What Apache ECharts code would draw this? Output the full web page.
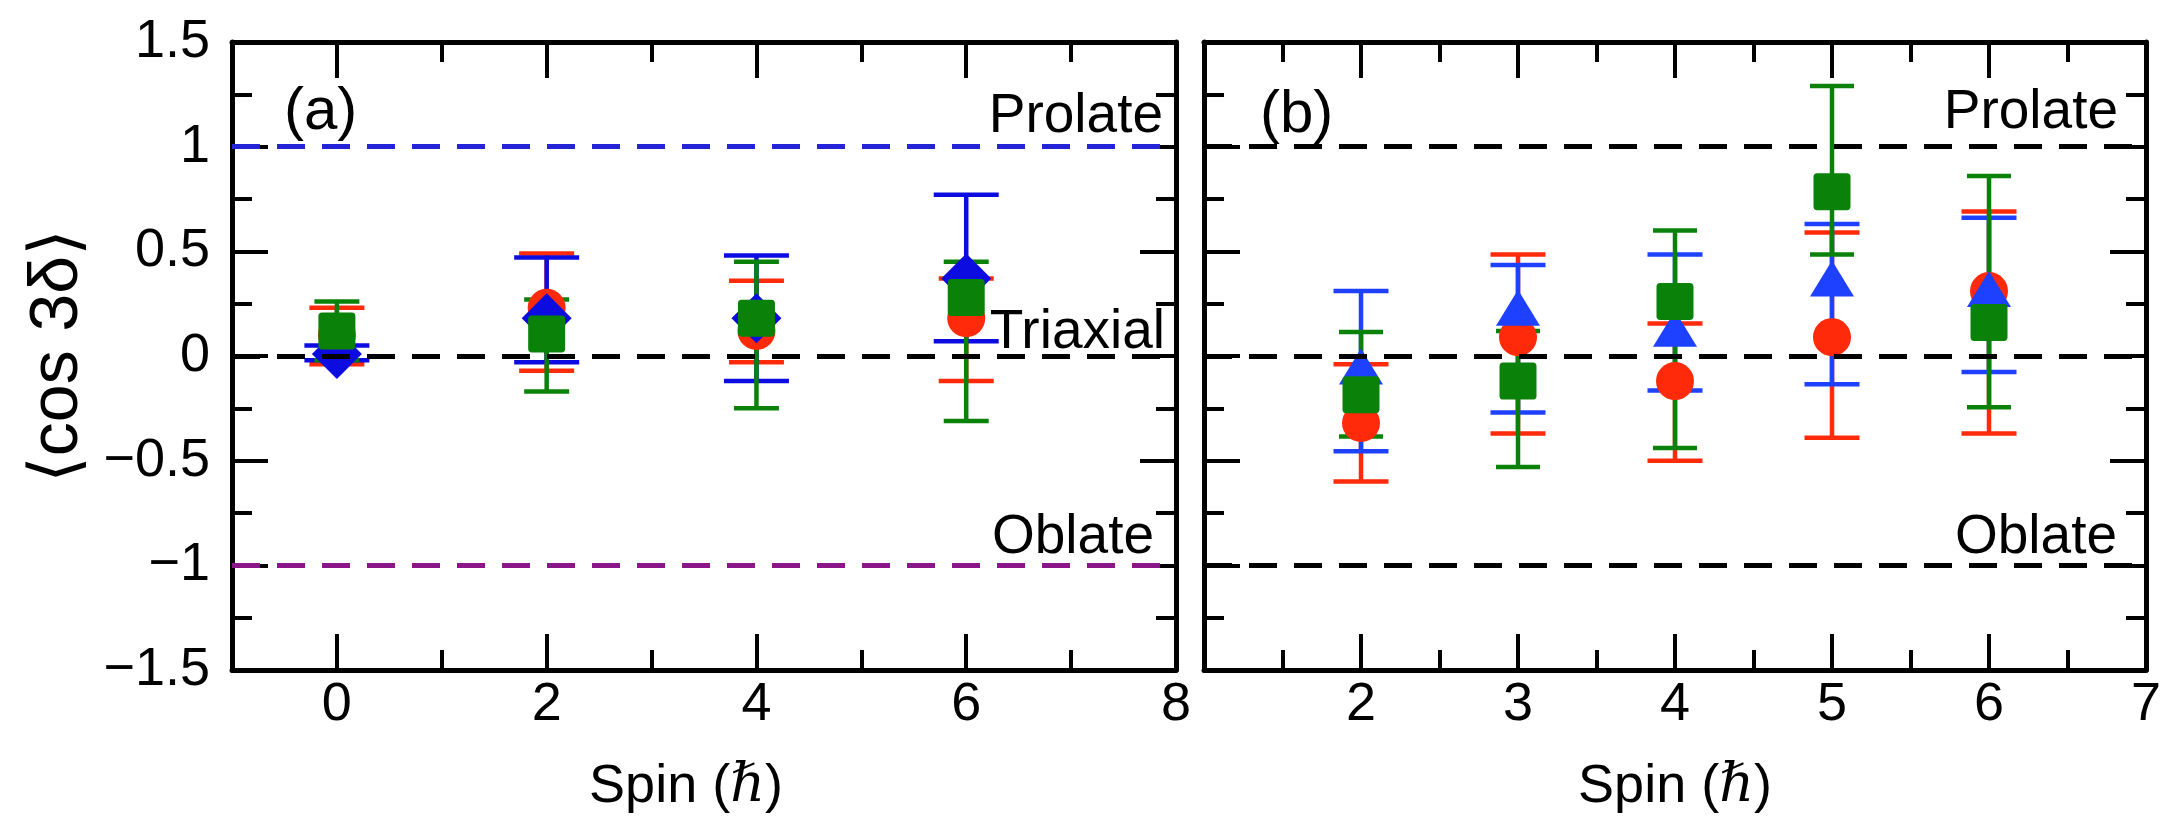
<!DOCTYPE html>
<html>
<head>
<meta charset="utf-8">
<script src="https://cdn.jsdelivr.net/npm/echarts@6/dist/echarts.min.js"></script>
<style>
  html, body { margin: 0; padding: 0; background: #fff; }
  #chart { width: 2177px; height: 826px; }
</style>
</head>
<body>
<div id="chart"></div>
<script>
// ---- Panel (a): spin values and <cos 3δ> with error limits ----
const spinsA = [0, 2, 4, 6];
const redA      = [0.10, 0.23, 0.12, 0.18];
const redALow   = [-0.04, -0.07, -0.03, -0.12];
const redAHigh  = [0.23, 0.49, 0.36, 0.37];
const blueA     = [0.01, 0.18, 0.18, 0.37];
const blueALow  = [-0.02, -0.03, -0.12, 0.07];
const blueAHigh = [0.05, 0.47, 0.48, 0.77];
const greenA     = [0.12, 0.105, 0.18, 0.28];
const greenALow  = [-0.02, -0.17, -0.25, -0.31];
const greenAHigh = [0.26, 0.27, 0.45, 0.45];

// ---- Panel (b) ----
const spinsB = [2, 3, 4, 5, 6];
const redB      = [-0.32, 0.09, -0.12, 0.09, 0.31];
const redBLow   = [-0.60, -0.37, -0.50, -0.39, -0.37];
const redBHigh  = [-0.04, 0.485, 0.155, 0.59, 0.69];
const blueB     = [-0.05, 0.23, 0.13, 0.37, 0.32];
const blueBLow  = [-0.455, -0.27, -0.165, -0.135, -0.077];
const blueBHigh = [0.31, 0.435, 0.485, 0.63, 0.66];
const greenB     = [-0.185, -0.12, 0.26, 0.785, 0.16];
const greenBLow  = [-0.385, -0.53, -0.44, 0.485, -0.245];
const greenBHigh = [0.115, 0.12, 0.60, 1.29, 0.86];

// Axis ticks
const majorTicksA = [0, 2, 4, 6, 8];
const minorTicksA = [1, 3, 5, 7];

// Shape reference levels
const prolateLevel = 1;
const triaxialLevel = 0;
const oblateLevel = -1;

const FONT = "'Liberation Sans', 'DejaVu Sans', sans-serif";
const RED = '#ff2a0a';
const BLUE_A = '#0c0ce0';
const BLUE_B = '#1e40ff';
const GREEN = '#0a820a';
const SQUARE = 'path://M2,0 H18 Q20,0 20,2 V18 Q20,20 18,20 H2 Q0,20 0,18 V2 Q0,0 2,0 Z';

function minusFmt(v) {
  return v < 0 ? '\u2212' + Math.abs(v) : String(v);
}

function errorBars(xIdx, yIdx, xs, lo, hi, color, cap) {
  return {
    type: 'custom',
    xAxisIndex: xIdx, yAxisIndex: yIdx,
    data: xs.map((x, i) => [x, lo[i], hi[i]]),
    encode: { x: 0, y: [1, 2] },
    silent: true,
    z: 3,
    renderItem: function (params, api) {
      const x = api.value(0);
      const pLo = api.coord([x, api.value(1)]);
      const pHi = api.coord([x, api.value(2)]);
      const h = cap / 2;
      const st = { stroke: color, lineWidth: 4.5 };
      return {
        type: 'group',
        children: [
          { type: 'line', shape: { x1: pLo[0], y1: pLo[1], x2: pHi[0], y2: pHi[1] }, style: st },
          { type: 'line', shape: { x1: pHi[0] - h, y1: pHi[1], x2: pHi[0] + h, y2: pHi[1] }, style: st },
          { type: 'line', shape: { x1: pLo[0] - h, y1: pLo[1], x2: pLo[0] + h, y2: pLo[1] }, style: st }
        ]
      };
    }
  };
}

function markers(xIdx, yIdx, xs, ys, color, symbol, size) {
  return {
    type: 'scatter',
    xAxisIndex: xIdx, yAxisIndex: yIdx,
    data: xs.map((x, i) => [x, ys[i]]),
    symbol: symbol, symbolSize: size,
    itemStyle: { color: color, opacity: 1 },
    silent: true,
    z: 3
  };
}

function refLines(xIdx, yIdx, levels) {
  return {
    type: 'scatter',
    xAxisIndex: xIdx, yAxisIndex: yIdx,
    data: [],
    z: 5,
    markLine: {
      silent: true,
      symbol: ['none', 'none'],
      animation: false,
      label: { show: false },
      z: 5,
      data: levels.map(l => ({ yAxis: l.v, lineStyle: { color: l.c, width: 5, type: [28, 17] } }))
    }
  };
}

const lineAx = { show: true, onZero: false, lineStyle: { color: '#000', width: 5 } };
const noLine = { show: false, onZero: false };

function xMajorA(pos, withLabels) {
  return {
    type: 'value', gridIndex: 0, position: pos, min: -1, max: 8,
    axisLine: lineAx,
    axisTick: { show: true, inside: true, length: 36, lineStyle: { color: '#000', width: 4 }, customValues: majorTicksA },
    axisLabel: withLabels
      ? { show: true, customValues: majorTicksA, fontSize: 54, color: '#000', fontFamily: FONT, margin: 8 }
      : { show: false },
    splitLine: { show: false }
  };
}
function xMinorA(pos) {
  return {
    type: 'value', gridIndex: 0, position: pos, min: -1, max: 8,
    axisLine: noLine,
    axisTick: { show: true, inside: true, length: 20, lineStyle: { color: '#000', width: 4 }, customValues: minorTicksA },
    axisLabel: { show: false },
    splitLine: { show: false }
  };
}
function xAxisB(pos, withLabels) {
  return {
    type: 'value', gridIndex: 1, position: pos, min: 1, max: 7, interval: 1,
    axisLine: lineAx,
    axisTick: { show: true, inside: true, length: 36, lineStyle: { color: '#000', width: 4 } },
    minorTick: { show: true, splitNumber: 2, length: 20, lineStyle: { color: '#000', width: 4 } },
    axisLabel: withLabels
      ? { show: true, fontSize: 54, color: '#000', fontFamily: FONT, margin: 8, showMinLabel: false }
      : { show: false },
    splitLine: { show: false }, minorSplitLine: { show: false }
  };
}
function yAxisP(grid, pos, withLabels) {
  return {
    type: 'value', gridIndex: grid, position: pos, min: -1.5, max: 1.5, interval: 0.5,
    axisLine: lineAx,
    axisTick: { show: true, inside: true, length: 36, lineStyle: { color: '#000', width: 4 } },
    minorTick: { show: true, splitNumber: 2, length: 20, lineStyle: { color: '#000', width: 4 } },
    axisLabel: withLabels
      ? { show: true, fontSize: 54, color: '#000', fontFamily: FONT, margin: 22, formatter: minusFmt }
      : { show: false },
    splitLine: { show: false }, minorSplitLine: { show: false }
  };
}

const spinName = {
  rich: {
    t: { fontSize: 54, fontFamily: FONT, color: '#000' },
    h: { fontSize: 54, fontFamily: "'DejaVu Serif', serif", fontStyle: 'italic', color: '#000' }
  }
};

const xAxes = [
  Object.assign(xMajorA('bottom', true), {
    name: '{t|Spin (}{h|\u210F}{t|)}', nameLocation: 'middle', nameGap: 90,
    nameTextStyle: Object.assign({ padding: [0, 36, 0, 0] }, spinName)
  }),
  xMinorA('bottom'),
  xMajorA('top', false),
  xMinorA('top'),
  Object.assign(xAxisB('bottom', true), {
    name: '{t|Spin (}{h|\u210F}{t|)}', nameLocation: 'middle', nameGap: 90,
    nameTextStyle: spinName
  }),
  xAxisB('top', false)
];

const yAxes = [
  Object.assign(yAxisP(0, 'left', true), {
    name: '\u27E8cos 3\u03B4\u27E9', nameLocation: 'middle', nameRotate: 90, nameGap: 140,
    nameTextStyle: { fontSize: 68, fontFamily: FONT, color: '#000' }
  }),
  yAxisP(0, 'right', false),
  yAxisP(1, 'left', false),
  yAxisP(1, 'right', false)
];

const series = [
  // panel (a)
  errorBars(0, 0, spinsA, redALow, redAHigh, RED, 55),
  markers(0, 0, spinsA, redA, RED, 'circle', 38),
  errorBars(0, 0, spinsA, blueALow, blueAHigh, BLUE_A, 65),
  markers(0, 0, spinsA, blueA, BLUE_A, 'diamond', [50, 50]),
  errorBars(0, 0, spinsA, greenALow, greenAHigh, GREEN, 45),
  markers(0, 0, spinsA, greenA, GREEN, SQUARE, 37),
  refLines(0, 0, [
    { v: prolateLevel, c: '#2424d6' },
    { v: triaxialLevel, c: '#000' },
    { v: oblateLevel, c: '#8a168a' }
  ]),
  // panel (b)
  errorBars(4, 2, spinsB, redBLow, redBHigh, RED, 55),
  markers(4, 2, spinsB, redB, RED, 'circle', 38),
  errorBars(4, 2, spinsB, blueBLow, blueBHigh, BLUE_B, 55),
  markers(4, 2, spinsB, blueB, BLUE_B, 'triangle', [44, 36]),
  errorBars(4, 2, spinsB, greenBLow, greenBHigh, GREEN, 44),
  markers(4, 2, spinsB, greenB, GREEN, SQUARE, 37),
  refLines(4, 2, [
    { v: prolateLevel, c: '#000' },
    { v: triaxialLevel, c: '#000' },
    { v: oblateLevel, c: '#000' }
  ])
];

const chart = echarts.init(document.getElementById('chart'), null, { renderer: 'canvas' });
chart.setOption({
  animation: false,
  backgroundColor: '#fff',
  grid: [
    { left: 232, top: 42, width: 944, height: 628 },
    { left: 1204, top: 42, width: 942, height: 628 }
  ],
  xAxis: xAxes,
  yAxis: yAxes,
  series: series
});

// Panel tags and shape annotations, anchored to data coordinates
const SER_A = 1, SER_B = 8;
function px(seriesIndex, x, y) {
  return chart.convertToPixel({ seriesIndex: seriesIndex }, [x, y]);
}
function note(seriesIndex, x, y, text, dx, dy, align, size) {
  const p = px(seriesIndex, x, y);
  return {
    type: 'text', x: p[0] + dx, y: p[1] + dy, z: 10,
    style: { text: text, fontSize: size, fontFamily: FONT, fill: '#000', align: align, verticalAlign: 'bottom' }
  };
}
chart.setOption({
  graphic: [
    note(SER_A, -1, 1.5, '(a)', 52, 100, 'left', 60),
    note(SER_B, 1, 1.5, '(b)', 56, 103, 'left', 60),
    note(SER_A, 8, prolateLevel, 'Prolate', -13, -2, 'right', 55),
    note(SER_A, 8, triaxialLevel, 'Triaxial', -11, 4, 'right', 55),
    note(SER_A, 8, oblateLevel, 'Oblate', -22, 0, 'right', 55),
    note(SER_B, 7, prolateLevel, 'Prolate', -28, -6, 'right', 55),
    note(SER_B, 7, oblateLevel, 'Oblate', -29, 0, 'right', 55)
  ]
});
</script>
</body>
</html>
